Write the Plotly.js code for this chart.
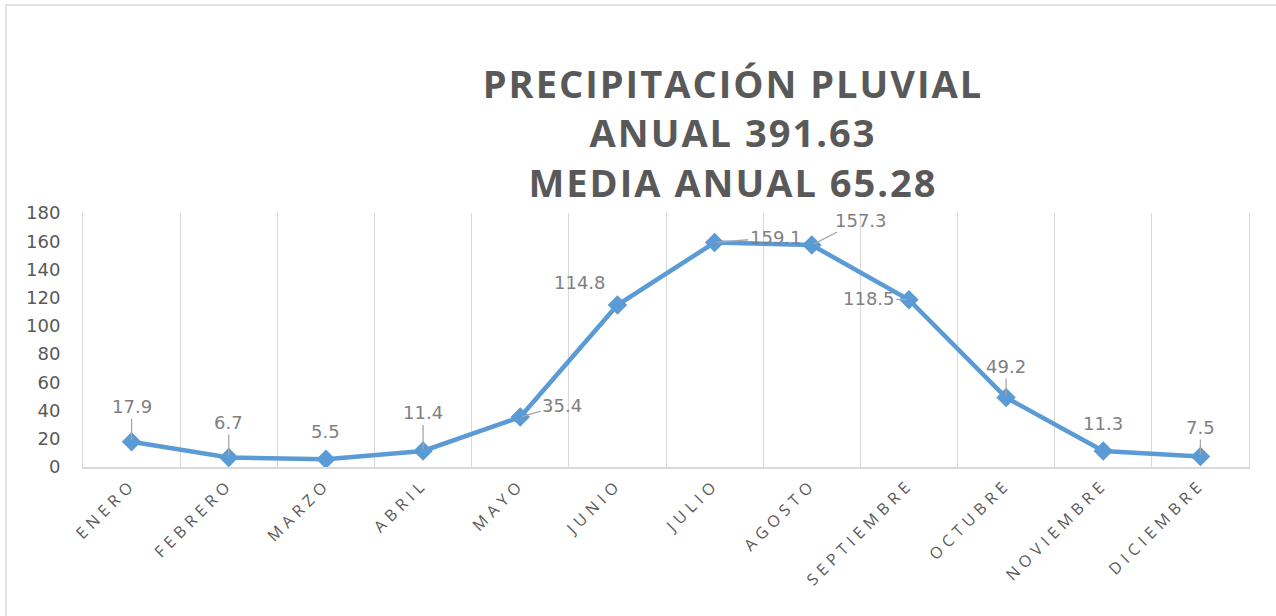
<!DOCTYPE html>
<html>
<head>
<meta charset="utf-8">
<script src="https://cdn.plot.ly/plotly-3.0.1.min.js"></script>
<style>
  html, body { margin: 0; padding: 0; background: #ffffff; }
  #chart { width: 1276px; height: 616px; }
  .xtick text { letter-spacing: 5px; }
  .gtitle { letter-spacing: 2px; }
</style>
</head>
<body>
<div id="chart"></div>
<script>
// ---- data ----
const months = ["ENERO", "FEBRERO", "MARZO", "ABRIL", "MAYO", "JUNIO",
                "JULIO", "AGOSTO", "SEPTIEMBRE", "OCTUBRE", "NOVIEMBRE", "DICIEMBRE"];
const precip = [17.9, 6.7, 5.5, 11.4, 35.4, 114.8, 159.1, 157.3, 118.5, 49.2, 11.3, 7.5];
const yTicks = [0, 20, 40, 60, 80, 100, 120, 140, 160, 180];
const titleLines = ["PRECIPITACIÓN PLUVIAL", "ANUAL 391.63", "MEDIA ANUAL 65.28"];

// ---- label placement (pixel offsets from each point, style only) ----
const labelOffsets = [
  [0, -35, true], [0, -35, true], [0, -28, false], [0, -38, true],
  [42, -12, true], [-37, -23, false], [61, -5, true], [49, -25, true],
  [-40, -1, true], [0, -31, true], [0, -28, false], [0, -29, true]
];

const blue = "#5B9BD5";
const grid = "#D9D9D9";
const txt = "#595959";

const trace = {
  type: "scatter",
  mode: "lines+markers",
  x: months,
  y: precip,
  line: { color: blue, width: 4.5 },
  marker: { symbol: "diamond", size: 15, color: blue },
  hoverinfo: "x+y",
  showlegend: false
};

const annotations = precip.map((v, i) => ({
  x: months[i],
  y: v,
  xref: "x",
  yref: "y",
  text: v.toFixed(1),
  showarrow: true,
  arrowhead: 0,
  arrowwidth: 1.3,
  arrowcolor: labelOffsets[i][2] ? "#A6A6A6" : "rgba(0,0,0,0)",
  ax: labelOffsets[i][0],
  ay: labelOffsets[i][1],
  standoff: 2,
  font: { family: "DejaVu Sans", size: 18, color: "#7F7F7F" }
}));

const layout = {
  width: 1276,
  height: 616,
  paper_bgcolor: "#ffffff",
  plot_bgcolor: "#ffffff",
  margin: { l: 83, r: 27, t: 213, b: 149 },
  title: {
    text: titleLines.join("<br>"),
    xref: "container",
    yref: "container",
    x: 733 / 1276,
    xanchor: "center",
    y: 1 - 98 / 616,
    yanchor: "top",
    font: { family: "Open Sans", size: 38, color: txt, weight: "bold" }
  },
  xaxis: {
    type: "category",
    range: [-0.5, 11.5],
    tickson: "boundaries",
    showgrid: true,
    gridcolor: grid,
    gridwidth: 1,
    showline: true,
    linecolor: grid,
    linewidth: 1.5,
    ticks: "outside",
    ticklen: 15,
    tickcolor: "rgba(0,0,0,0)",
    tickangle: -45,
    tickfont: { family: "Open Sans", size: 16, color: txt },
    zeroline: false,
    fixedrange: true
  },
  yaxis: {
    range: [0, 180],
    tickvals: yTicks,
    showgrid: false,
    zeroline: false,
    showline: true,
    mirror: true,
    linecolor: grid,
    linewidth: 1,
    ticks: "outside",
    ticklen: 18,
    tickcolor: "rgba(0,0,0,0)",
    tickfont: { family: "DejaVu Sans", size: 18, color: txt },
    fixedrange: true
  },
  shapes: [{
    type: "rect",
    xref: "paper", yref: "paper",
    x0: -77 / 1166, x1: 1300 / 1166,
    y0: -200 / 254, y1: 462 / 254,
    line: { color: grid, width: 1.5 },
    fillcolor: "rgba(0,0,0,0)",
    layer: "below"
  }],
  annotations: annotations
};

Plotly.newPlot("chart", [trace], layout, { displayModeBar: false, staticPlot: true });
</script>
</body>
</html>
